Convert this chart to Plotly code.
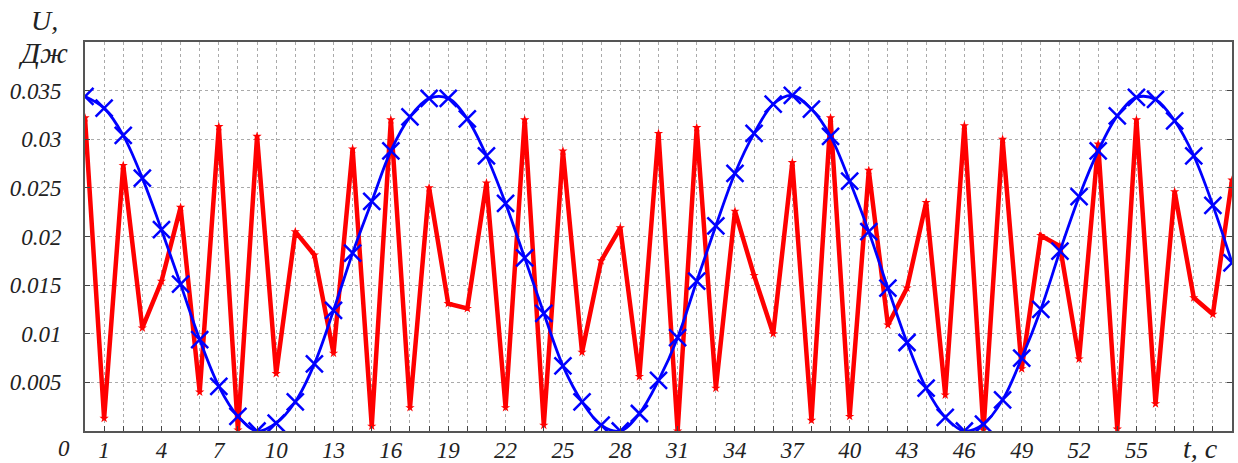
import plotly.graph_objects as go

t = list(range(61))
u_blue = [0.0344, 0.0332, 0.0304, 0.0260, 0.0207, 0.0151, 0.0094, 0.0046, 0.0015, 0.0000,
          0.0008, 0.0030, 0.0069, 0.0124, 0.0183, 0.0236, 0.0288, 0.0323, 0.0342, 0.0342,
          0.0321, 0.0283, 0.0234, 0.0178, 0.0121, 0.0067, 0.0030, 0.0006, 0.0000, 0.0018,
          0.0052, 0.0096, 0.0154, 0.0211, 0.0265, 0.0306, 0.0336, 0.0345, 0.0331, 0.0303,
          0.0257, 0.0205, 0.0147, 0.0091, 0.0044, 0.0014, 0.0000, 0.0007, 0.0032, 0.0075,
          0.0125, 0.0185, 0.0241, 0.0288, 0.0324, 0.0343, 0.0341, 0.0319, 0.0283, 0.0232,
          0.0173]
u_red = [0.0322, 0.0013, 0.0273, 0.0106, 0.0154, 0.0230, 0.0040, 0.0313, 0.0001, 0.0303,
         0.0059, 0.0205, 0.0181, 0.0080, 0.0290, 0.0005, 0.0320, 0.0024, 0.0250, 0.0131,
         0.0126, 0.0255, 0.0024, 0.0320, 0.0006, 0.0288, 0.0081, 0.0175, 0.0209, 0.0056,
         0.0306, 0.0000, 0.0312, 0.0044, 0.0226, 0.0160, 0.0100, 0.0276, 0.0011, 0.0322,
         0.0015, 0.0268, 0.0109, 0.0147, 0.0235, 0.0037, 0.0314, 0.0001, 0.0300, 0.0064,
         0.0201, 0.0190, 0.0074, 0.0295, 0.0002, 0.0320, 0.0028, 0.0246, 0.0137, 0.0120,
         0.0258]
x_label_vals = list(range(1, 56, 3))
y_tick_vals = [0.005, 0.01, 0.015, 0.02, 0.025, 0.03, 0.035]
y_tick_text = ["0.005", "0.01", "0.015", "0.02", "0.025", "0.03", "0.035"]

FONT = "Liberation Serif"
x_ticktext = [str(v) if v in x_label_vals else "" for v in t]

fig = go.Figure()
fig.add_trace(go.Scatter(
    x=t, y=u_red, mode="lines+markers",
    line=dict(color="#ff0000", width=4.5),
    marker=dict(symbol="star", size=7, color="#ff0000"),
    showlegend=False,
))
fig.add_trace(go.Scatter(
    x=t, y=u_blue, mode="lines+markers",
    line=dict(color="#0000ff", width=2.8, shape="spline"),
    marker=dict(symbol="x-thin", size=17, line=dict(color="#0000ff", width=2.5)),
    showlegend=False,
))

fig.update_layout(
    width=1238, height=463,
    margin=dict(l=85, r=6, t=42, b=32),
    plot_bgcolor="white", paper_bgcolor="white",
    font=dict(family=FONT, color="#222"),
)
fig.update_xaxes(
    range=[0, 60], tickvals=t, ticktext=x_ticktext,
    ticks="inside", ticklen=5, tickcolor="#444", tickwidth=1,
    tickfont=dict(family=FONT, size=23, style="italic", color="#222"),
    showgrid=True, gridcolor="#aaa", griddash="dot", gridwidth=1,
    showline=True, linecolor="#555", linewidth=2, mirror=True,
    zeroline=False, automargin=False, ticklabelstandoff=-3,
)
fig.update_yaxes(
    range=[0, 0.04], tickvals=y_tick_vals, ticktext=y_tick_text,
    ticks="inside", ticklen=5, tickcolor="#444", tickwidth=1,
    tickfont=dict(family=FONT, size=23, style="italic", color="#222"),
    showgrid=True, gridcolor="#aaa", griddash="dot", gridwidth=1,
    showline=True, linecolor="#555", linewidth=2, mirror="ticks",
    zeroline=False, ticklabelstandoff=17, automargin=False,
)

def px2paper(px, py):
    return (px - 85) / (1232 - 85), (430.7 - py) / (430.7 - 42)

for txt, (px, py), sz in [("U,", (44, 21), 28), ("Дж", (43, 52), 30),
                          ("0", (64, 448), 23), ("t, c", (1200, 448), 28)]:
    xp, yp = px2paper(px, py)
    fig.add_annotation(text=txt, x=xp, y=yp, xref="paper", yref="paper",
                       showarrow=False, xanchor="center", yanchor="middle",
                       font=dict(family=FONT, size=sz, style="italic", color="#222"))

fig.write_html("out.html", config={"displayModeBar": False},
               post_script="document.body.style.margin='0';document.body.style.overflow='hidden';")
